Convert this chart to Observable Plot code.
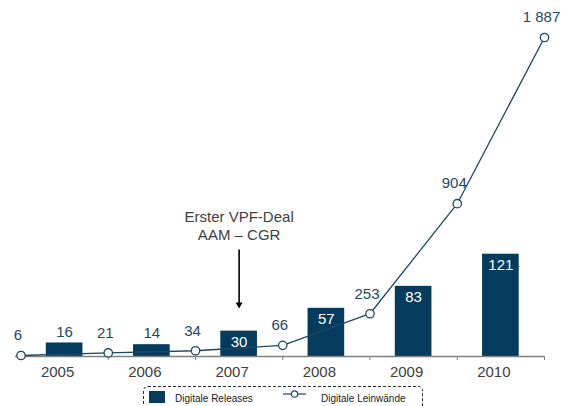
<!DOCTYPE html>
<html><head><meta charset="utf-8">
<script src="https://cdn.jsdelivr.net/npm/d3@7"></script>
<script src="https://cdn.jsdelivr.net/npm/@observablehq/plot@0.6"></script>
<style>
body{margin:0;overflow:hidden;background:#fff;font-family:"Liberation Sans",Arial,sans-serif}
#wrap{position:relative;width:562px;height:406px}
#legend{position:absolute;left:143px;top:386px;width:280px;height:30px;border:1px dashed #2a2a2a;border-radius:5px;box-sizing:border-box}
#legend .sw{position:absolute;left:5px;top:4px;width:16px;height:12px;background:#053b5c}
#legend .t{position:absolute;top:6px;font-size:10px;line-height:12px;color:#222;white-space:nowrap}
#legend svg{position:absolute;left:139px;top:1px}
</style></head><body>
<div id="wrap"><div id="chart"></div>
<div id="legend"><span class="sw"></span><span class="t" id="t1" style="left:31px"></span>
<svg width="23" height="12"><line x1="0" y1="6" x2="23" y2="6" stroke="#1d4868" stroke-width="1.2"/><circle cx="11.5" cy="6" r="3.2" fill="#fff" stroke="#1d4868" stroke-width="1.2"/></svg>
<span class="t" id="t2" style="left:177px"></span></div></div>
<script>
const years = [2005, 2006, 2007, 2008, 2009, 2010];
const releases = [16, 14, 30, 57, 83, 121];
const screenYearEnds = [2004, 2005, 2006, 2007, 2008, 2009, 2010];
const screens = [6, 21, 34, 66, 253, 904, 1887];
const seriesNames = ["Digitale Releases", "Digitale Leinwände"];
const annotationLines = ["Erster VPF-Deal", "AAM – CGR"];
const annotationYear = 2007;

const navy = "#053b5c";
const lineCol = "#1d4868";
const ratio = 5; // secondary axis ratio (bars vs. screens)
const bars = years.map((y, i) => ({year: y, value: releases[i]}));
const line = screenYearEnds.map((y, i) => ({pos: y + 0.5, value: screens[i]}));
const fmt = d3.formatLocale({thousands: " ", grouping: [3], decimal: ",", currency: ["", ""]}).format(",d");

document.getElementById("t1").textContent = seriesNames[0];
document.getElementById("t2").textContent = seriesNames[1];

const chart = Plot.plot({
  width: 562, height: 382,
  marginLeft: 15, marginRight: 18, marginTop: 37, marginBottom: 26,
  x: {type: "linear", domain: [2004.437, 2010.5], axis: null},
  y: {domain: [0, 1887], axis: null},
  style: {fontFamily: "'Liberation Sans', Arial, sans-serif", background: "#fff"},
  marks: [
    Plot.rectY(bars, {x1: d => d.year - 0.21, x2: d => d.year + 0.21, y1: 0, y2: d => d.value * ratio, fill: navy}),
    Plot.ruleY([0], {stroke: "#808080", strokeWidth: 1.5}),
    Plot.axisX(line.map(d => d.pos), {tickSize: 4, tickFormat: () => "", stroke: "#808080"}),
    Plot.axisX(years, {tickSize: 0, tickPadding: 10, fontSize: 15, dx: -7, fill: "#404040", tickFormat: d => String(d)}),
    Plot.line(line, {x: "pos", y: "value", stroke: lineCol, strokeWidth: 1.3}),
    Plot.dot(line, {x: "pos", y: "value", r: 4.2, fill: "#fff", stroke: lineCol, strokeWidth: 1.3}),
    Plot.text(line, {x: "pos", y: "value", text: d => fmt(d.value), dy: -20, dx: -3, fontSize: 15, fill: lineCol}),
    Plot.text(bars.filter(d => d.value < 20), {x: "year", y: d => d.value * ratio, text: d => String(d.value), dy: -11, fontSize: 15, fill: lineCol}),
    Plot.text(bars.filter(d => d.value >= 20), {x: "year", y: d => d.value * ratio, text: d => String(d.value), dy: 11, fontSize: 15, fill: "#fff"}),
    Plot.text([annotationLines.join("\n")], {x: annotationYear, y: 777, text: d => d, fontSize: 15, lineHeight: 1.2, fill: "#404040"}),
    Plot.ruleX([annotationYear], {y1: 630, y2: 305, stroke: "#000", strokeWidth: 1.6}),
    Plot.dot([annotationYear], {x: d => d, y: 308, symbol: "triangle", rotate: 180, r: 2.6, fill: "#000", stroke: "none"})
  ]
});
document.getElementById("chart").appendChild(chart);
</script></body></html>
